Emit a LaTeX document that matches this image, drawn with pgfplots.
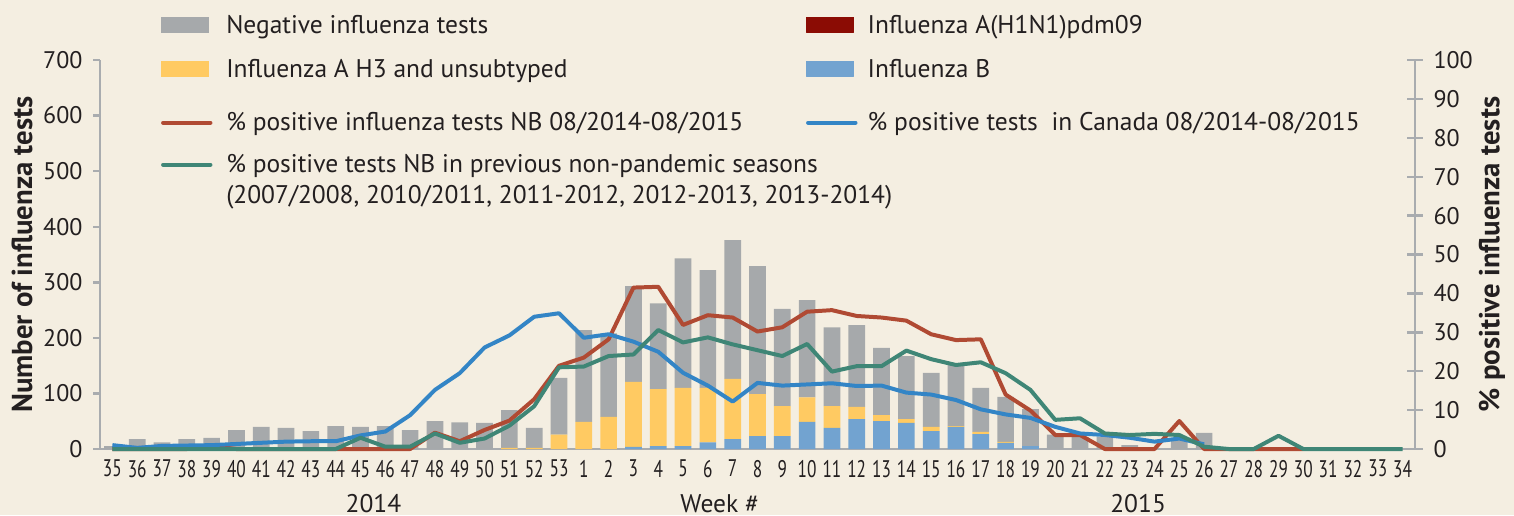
\documentclass[border=0pt]{standalone}
\usepackage{pgfplots}
\usepackage{pgfplotstable}
\pgfplotsset{compat=1.18}
\usepackage{fontspec}
\setmainfont{PT Sans}
\newfontfamily\condfont[FakeStretch=0.72]{PT Sans}

\definecolor{bg}{HTML}{F4EEE1}
\definecolor{neg}{HTML}{A6A9AB}
\definecolor{hthree}{HTML}{FFCA62}
\definecolor{hone}{HTML}{8B0C04}
\definecolor{flub}{HTML}{72A3D0}
\definecolor{redl}{HTML}{B04A33}
\definecolor{bluel}{HTML}{3385C6}
\definecolor{greenl}{HTML}{3F8676}
\definecolor{axisc}{HTML}{A9ACAF}
\definecolor{txt}{HTML}{231F20}

\pgfplotstableread{
x wk B H1 H3 Neg red blue green
0 35 0 0 0 5 0 1.0 0
1 36 0 0 0 18 0 0.3 0
2 37 0 0 0 12 0 0.8 0
3 38 0 0 0 18 0 0.9 0
4 39 0 0 0 20 0.8 1.0 0
5 40 0 0 0 34 0 1.3 0
6 41 0 0 0 40 0 1.6 0
7 42 0 0 0 38 0 1.9 0
8 43 0 0 0 32 0 2.0 0
9 44 0 0 0 41 0 2.0 0
10 45 0 0 0 40 0 3.5 2.9
11 46 0 0 0 41 0 4.5 0.6
12 47 0 0 0 34 0 8.7 0.6
13 48 0 0 0 50 4.2 15.2 4.0
14 49 0 0 0 48 2.0 19.5 1.6
15 50 0 0 0 47 4.9 26.1 2.7
16 51 0 0 2 68 7.3 29.2 6.0
17 52 0 0 2 36 12.8 34.0 11.0
18 53 0 0 26 102 21.4 34.9 21.0
19 1 0 0 49 165 23.5 28.6 21.2
20 2 0 0 58 150 28.2 29.5 23.9
21 3 4 0 117 172 41.5 27.6 24.3
22 4 5 0 103 154 41.7 25.0 30.6
23 5 5 0 105 233 31.9 19.6 27.4
24 6 12 0 98 212 34.4 16.3 28.7
25 7 18 0 108 250 33.8 12.2 26.9
26 8 23 0 76 230 30.2 17.0 25.4
27 9 23 0 54 175 31.3 16.3 23.9
28 10 49 0 44 175 35.3 16.6 27.0
29 11 38 0 39 142 35.7 16.9 19.9
30 12 54 0 22 147 34.2 16.2 21.3
31 13 50 0 11 121 33.8 16.3 21.3
32 14 47 0 7 113 33.0 14.5 25.3
33 15 32 0 8 97 29.5 14.0 23.1
34 16 40 0 1 110 28.0 12.6 21.6
35 17 27 0 4 79 28.2 10.2 22.3
36 18 11 0 2 81 14.0 8.9 19.5
37 19 5 0 0 67 9.9 8.0 15.2
38 20 0 0 0 26 3.6 5.7 7.5
39 21 0 0 0 22 3.6 4.0 7.9
40 22 0 0 0 22 0 3.6 4.0
41 23 0 0 0 7 0 2.9 3.6
42 24 0 0 0 0 0 1.9 3.9
43 25 0 0 0 20 7.2 2.7 3.6
44 26 0 0 0 29 0 1.2 0.6
45 27 0 0 0 0 0 nan 0
46 28 0 0 0 0 0 nan 0
47 29 0 0 0 0 0 nan 3.4
48 30 0 0 0 0 0 nan 0
49 31 0 0 0 0 nan nan 0
50 32 0 0 0 0 nan nan 0
51 33 0 0 0 0 nan nan 0
52 34 0 0 0 0 nan nan 0
}\data

\pgfplotsset{
  common/.style={
    scale only axis, width=438.33pt, height=129.67pt,
    xmin=-0.5, xmax=52.5, ymin=0,
    axis line style={axisc, line width=0.8pt, -},
    /pgf/number format/assume math mode=true,
    yticklabel style={font=\fontsize{8}{9}\selectfont, text=txt},
    clip=false,
    legend style={draw=none, fill=none, inner sep=0pt, outer sep=0pt,
      row sep=0pt, cells={anchor=base west},
      nodes={inner sep=0pt, text depth=, text=txt},
      font=\fontsize{8.5}{10.3}\selectfont},
  },
}

\begin{document}
\begin{tikzpicture}
\path[use as bounding box, fill=bg] (-33.33pt,-22pt) rectangle (471.33pt,149.67pt);
\begin{axis}[common,
  ybar stacked, bar width=5.57pt,
  ymax=700, ytick={0,100,...,700},
  axis y line*=left, axis x line*=bottom,
  ytick align=outside, major tick length=2.3pt,
  ytick style={axisc, line width=0.8pt},
  xtick={0,...,52}, xtick style={draw=none},
  xticklabels={35,36,37,38,39,40,41,42,43,44,45,46,47,48,49,50,51,52,53,1,2,3,4,5,6,7,8,9,10,11,12,13,14,15,16,17,18,19,20,21,22,23,24,25,26,27,28,29,30,31,32,33,34},
  xticklabel style={font=\condfont\fontsize{8}{9}\selectfont, text=txt, inner sep=0pt, yshift=-3.5pt},
  ylabel={Number of influenza tests},
  ylabel style={at={(axis description cs:-0.0593,0.5)}, anchor=center, font=\bfseries\fontsize{9.6}{11}\selectfont, text=txt},
  legend style={at={(axis description cs:0,1)}, anchor=north west, xshift=20.33pt, yshift=17pt, column sep=4.6pt},
]
\addplot[fill=flub, draw=none, forget plot] table[x=x, y=B] {\data};
\addplot[fill=hone, draw=none, forget plot] table[x=x, y=H1] {\data};
\addplot[fill=hthree, draw=none, forget plot] table[x=x, y=H3] {\data};
\addplot[fill=neg, draw=none, forget plot] table[x=x, y=Neg] {\data};
\addlegendimage{legend image code/.code={\fill[neg] (0pt,0.3pt) rectangle (15.7pt,5.3pt);}}
\addlegendentry{Negative influenza tests\rule[-6.67pt]{0pt}{14.67pt}}
\addlegendimage{legend image code/.code={\fill[hthree] (0pt,0.3pt) rectangle (15.7pt,5.3pt);}}
\addlegendentry{Influenza A H3 and unsubtyped\rule[-9.9pt]{0pt}{17.9pt}}
\addlegendimage{legend image code/.code={\draw[redl, line width=1.33pt, line cap=round] (0.5pt,2.67pt) -- (16.3pt,2.67pt);}}
\addlegendentry{\% positive influenza tests NB 08/2014-08/2015\rule[-6pt]{0pt}{14pt}}
\addlegendimage{legend image code/.code={\draw[greenl, line width=1.33pt, line cap=round] (0.5pt,2.67pt) -- (16.3pt,2.67pt);}}
\addlegendentry{\begin{tabular}[t]{@{}l@{}}\rule{0pt}{8pt}\% positive tests NB in previous non-pandemic seasons\\(2007/2008, 2010/2011, 2011-2012, 2012-2013, 2013-2014)\end{tabular}}
\node[font=\fontsize{8.5}{9}\selectfont, text=txt, inner sep=0pt] at (axis cs:10.52,0) [yshift=-18.2pt] {2014};
\node[font=\fontsize{8.5}{9}\selectfont, text=txt, inner sep=0pt] at (axis cs:41.34,0) [yshift=-18.2pt] {2015};
\node[font=\fontsize{8.5}{9}\selectfont, text=txt, inner sep=0pt] at (axis cs:24.48,0) [yshift=-18.2pt] {Week \#};
\end{axis}
\begin{axis}[common,
  ymax=100, ytick={0,10,...,100},
  axis y line*=right, axis x line=none,
  ytick align=center, major tick length=5.3pt,
  ytick style={axisc, line width=0.8pt},
  ylabel={\% positive influenza tests},
  ylabel style={at={(axis description cs:1.0586,0.5)}, anchor=center, rotate=0, font=\bfseries\fontsize{9.6}{11}\selectfont, text=txt},
  legend style={at={(axis description cs:0,1)}, anchor=north west, xshift=235.33pt, yshift=17pt, column sep=3.4pt},
  line join=round,
]
\addplot[redl, line width=1.33pt, unbounded coords=jump, forget plot] table[x=x, y=red] {\data};
\addplot[bluel, line width=1.33pt, unbounded coords=jump, forget plot] table[x=x, y=blue] {\data};
\addplot[greenl, line width=1.33pt, unbounded coords=jump, forget plot] table[x=x, y=green] {\data};
\addlegendimage{legend image code/.code={\fill[hone] (0pt,0.3pt) rectangle (15.7pt,5.3pt);}}
\addlegendentry{Influenza A(H1N1)pdm09\rule[-6.67pt]{0pt}{14.67pt}}
\addlegendimage{legend image code/.code={\fill[flub] (0pt,0.3pt) rectangle (15.7pt,5.3pt);}}
\addlegendentry{Influenza B\rule[-9.9pt]{0pt}{17.9pt}}
\addlegendimage{legend image code/.code={\draw[bluel, line width=1.33pt, line cap=round] (0.5pt,2.67pt) -- (16.3pt,2.67pt);}}
\addlegendentry{\% positive tests\ \ in Canada 08/2014-08/2015\rule[-6pt]{0pt}{14pt}}
\end{axis}
\end{tikzpicture}
\end{document}
